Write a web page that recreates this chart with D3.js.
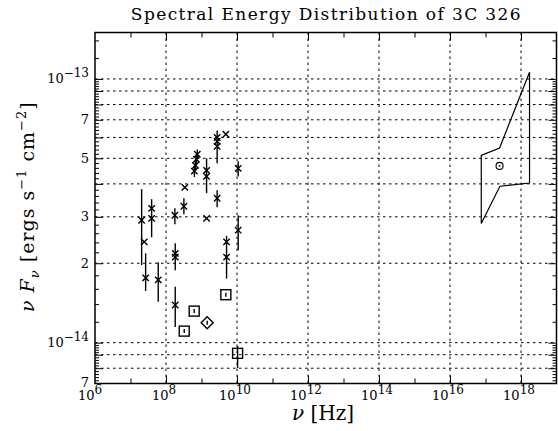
<!DOCTYPE html>
<html>
<head>
<meta charset="utf-8">
<script src="https://cdn.jsdelivr.net/npm/d3@7"></script>
<style>
  body { margin: 0; background: #fff; }
  svg { display: block; }
  text { font-family: "DejaVu Serif", serif; fill: #000; }
</style>
</head>
<body>
<svg id="chart" width="558" height="431"></svg>
<script>
// ---- Radio / mm photometry (crosses): frequency [Hz], nuFnu, error range ----
const crossFreq = [2.06e7, 2.44e7, 2.67e7, 3.94e7, 3.94e7, 6.04e7, 1.78e8, 3.19e8, 3.40e8, 1.82e8,
                   1.82e8, 1.82e8, 6.3e8, 6.76e8, 7.2e8, 7.6e8, 1.39e9, 1.39e9, 1.39e9, 2.76e9,
                   2.76e9, 2.76e9, 2.76e9, 4.85e9, 5.08e9, 5.08e9, 1.08e10, 1.08e10];
const crossFlux = [2.91e-14, 2.41e-14, 1.76e-14, 3.23e-14, 2.96e-14, 1.73e-14, 3.04e-14, 3.29e-14, 3.88e-14, 2.18e-14,
                   2.11e-14, 1.39e-14, 4.47e-14, 4.70e-14, 4.96e-14, 5.18e-14, 4.50e-14, 4.27e-14, 2.96e-14, 3.53e-14,
                   6.00e-14, 5.80e-14, 5.55e-14, 6.17e-14, 2.41e-14, 2.11e-14, 4.58e-14, 2.67e-14];
const crossLo   = [1.97e-14, null, 1.57e-14, null, 2.51e-14, 1.43e-14, 2.81e-14, 3.07e-14, null, 1.88e-14,
                   null, 1.146e-14, 4.25e-14, 4.48e-14, 4.72e-14, 4.95e-14, 3.69e-14, null, null, 3.26e-14,
                   4.79e-14, null, null, null, 1.75e-14, null, 4.27e-14, 2.24e-14];
const crossHi   = [3.82e-14, null, 2.18e-14, null, 3.50e-14, 2.02e-14, 3.23e-14, 3.53e-14, null, 2.38e-14,
                   null, 1.63e-14, 4.70e-14, 4.93e-14, 5.20e-14, 5.40e-14, 5.00e-14, null, null, 3.78e-14,
                   6.38e-14, null, null, null, 2.54e-14, null, 4.87e-14, 3.04e-14];

// ---- Boxed points ----
const boxFreq = [3.26e8, 6.22e8, 4.85e9, 1.04e10];
const boxFlux = [1.106e-14, 1.317e-14, 1.52e-14, 9.11e-15];
const boxLo   = [null, null, null, 8.01e-15];
const boxHi   = [null, null, null, 9.71e-15];

// ---- Diamond point ----
const diamondFreq = [1.445e9];
const diamondFlux = [1.19e-14];

// ---- X-ray point and spectral bow-tie ----
const xrayPointFreq = [2.49e17];
const xrayPointFlux = [4.68e-14];
const bowtieFreq = [7.6e16, 2.49e17, 1.74e18, 1.74e18, 2.55e17, 7.6e16];
const bowtieFlux = [5.13e-14, 5.47e-14, 1.06e-13, 4.03e-14, 3.92e-14, 2.83e-14];

// ---- Axis labelling ----
const xLabelExponents = [6, 8, 10, 12, 14, 16, 18];
const yLabelValues = [1e-13, 7e-14, 5e-14, 3e-14, 2e-14, 1e-14, 7e-15];
const yLabelMantissa = ["10", "7", "5", "3", "2", "10", "7"];
const yLabelExponent = ["\u221213", "", "", "", "", "\u221214", ""];

const svg = d3.select("#chart");
const x = d3.scaleLog().domain([1e6, 1e19]).range([95, 556.5]);
const y = d3.scaleLog().domain([7e-15, 1.5e-13]).range([383.5, 32.5]);
const [x0, x1] = x.range();
const [yb, yt] = y.range();

// Grid values: k * 10^n inside the frame
const gridY = [];
for (let e = -15; e <= -13; e++) for (let k = 1; k <= 9; k++) {
  const v = k * Math.pow(10, e);
  if (v > 7.05e-15 && v < 1.49e-13) gridY.push(v);
}
const gridX = d3.range(8, 19, 2).map(e => Math.pow(10, e));

const grid = svg.append("g").attr("stroke", "#000").attr("stroke-width", 1)
  .attr("stroke-dasharray", "2.5,3.5").attr("fill", "none");
grid.selectAll("line.gy").data(gridY).join("line").attr("class", "gy")
  .attr("x1", x0).attr("x2", x1).attr("y1", d => y(d)).attr("y2", d => y(d));
grid.selectAll("line.gx").data(gridX).join("line").attr("class", "gx")
  .attr("y1", yt).attr("y2", yb).attr("x1", d => x(d)).attr("x2", d => x(d));

// Tick values
const yMinor = [], yMajor = [];
for (let e = -15; e <= -13; e++) for (let i = 5; i < 50; i++) {
  const v = i * 2 * Math.pow(10, e - 1);
  if (v <= 7.05e-15 || v >= 1.49e-13) continue;
  (i % 5 === 0 ? yMajor : yMinor).push(v);
}
const xMajor = d3.range(8, 19, 2).map(e => Math.pow(10, e));
const xMinor = d3.range(7, 19, 2).map(e => Math.pow(10, e));

function styleAxis(g) {
  g.select(".domain").remove();
  g.selectAll(".tick line").attr("stroke", "#000").attr("stroke-width", 1);
  g.selectAll(".tick text").remove();
}
const addAxis = (gen, tx, ty) => svg.append("g").attr("transform", `translate(${tx},${ty})`).call(gen).call(styleAxis);

addAxis(d3.axisLeft(y).tickValues(yMinor).tickSizeInner(-4).tickSizeOuter(0), x0, 0);
addAxis(d3.axisLeft(y).tickValues(yMajor).tickSizeInner(-8).tickSizeOuter(0), x0, 0);
addAxis(d3.axisRight(y).tickValues(yMinor).tickSizeInner(-4).tickSizeOuter(0), x1, 0);
addAxis(d3.axisRight(y).tickValues(yMajor).tickSizeInner(-8).tickSizeOuter(0), x1, 0);
addAxis(d3.axisBottom(x).tickValues(xMajor).tickSizeInner(-8).tickSizeOuter(0), 0, yb);
addAxis(d3.axisBottom(x).tickValues(xMinor).tickSizeInner(-5).tickSizeOuter(0), 0, yb);
addAxis(d3.axisTop(x).tickValues(xMajor).tickSizeInner(-8).tickSizeOuter(0), 0, yt);
addAxis(d3.axisTop(x).tickValues(xMinor).tickSizeInner(-5).tickSizeOuter(0), 0, yt);

// Frame
svg.append("rect").attr("x", x0).attr("y", yt).attr("width", x1 - x0).attr("height", yb - yt)
  .attr("fill", "none").attr("stroke", "#000").attr("stroke-width", 1.5);

// X tick labels
const xl = svg.append("g").attr("font-size", 13);
xLabelExponents.forEach((e, i) => {
  const t = xl.append("text").attr("x", x(Math.pow(10, e)) - (i === 0 ? 5 : 2)).attr("y", 400)
    .attr("text-anchor", "middle");
  t.append("tspan").text("10");
  t.append("tspan").attr("dy", -6).attr("font-size", 12).text(e);
});

// Y tick labels
const yl = svg.append("g").attr("font-size", 13);
yLabelValues.forEach((v, i) => {
  const t = yl.append("text").attr("x", 89).attr("y", y(v) + 4.5 - (i === yLabelValues.length - 1 ? 1.5 : 0))
    .attr("text-anchor", "end");
  t.append("tspan").text(yLabelMantissa[i]);
  if (yLabelExponent[i]) t.append("tspan").attr("dy", -6).attr("font-size", 12).text(yLabelExponent[i]);
});

// Title and axis titles
svg.append("text").attr("x", (x0 + x1) / 2 + 0.7).attr("y", 20).attr("text-anchor", "middle")
  .attr("font-size", 17).attr("letter-spacing", 1.4).text("Spectral Energy Distribution of 3C 326");

const xt = svg.append("text").attr("x", 323).attr("y", 420).attr("text-anchor", "middle").attr("font-size", 20);
xt.append("tspan").attr("font-style", "italic").text("\u03bd");
xt.append("tspan").text(" [Hz]");

// Rotated y title, starting from the bottom
const yTitle = svg.append("text").attr("transform", "translate(34,312) rotate(-90)")
  .attr("text-anchor", "start").attr("font-size", 19).attr("letter-spacing", 1);
yTitle.append("tspan").attr("font-style", "italic").text("\u03bd F");
yTitle.append("tspan").attr("font-style", "italic").attr("font-size", 13).attr("dy", 5).text("\u03bd");
yTitle.append("tspan").attr("dy", -5).text("  [ergs s");
yTitle.append("tspan").attr("font-size", 13).attr("dy", -8).text("\u22121");
yTitle.append("tspan").attr("dy", 8).text(" cm");
yTitle.append("tspan").attr("font-size", 13).attr("dy", -8).text("\u22122");
yTitle.append("tspan").attr("dy", 8).text("]");

// Data layer
const data = svg.append("g").attr("stroke", "#000").attr("fill", "none").attr("stroke-width", 1.4);

// Error bars for crosses
const crosses = crossFreq.map((f, i) => ({ f, v: crossFlux[i], lo: crossLo[i], hi: crossHi[i] }));
data.selectAll("line.err").data(crosses.filter(d => d.lo !== null)).join("line").attr("class", "err")
  .attr("x1", d => x(d.f)).attr("x2", d => x(d.f)).attr("y1", d => y(d.lo)).attr("y2", d => y(d.hi));
const cs = 3.2;
data.selectAll("path.cross").data(crosses).join("path").attr("class", "cross")
  .attr("d", d => {
    const px = x(d.f), py = y(d.v);
    return `M${px - cs},${py - cs}L${px + cs},${py + cs}M${px - cs},${py + cs}L${px + cs},${py - cs}`;
  });

// Boxes with their small inner bar
const boxes = boxFreq.map((f, i) => ({ f, v: boxFlux[i], lo: boxLo[i], hi: boxHi[i] }));
const bs = 5;
data.selectAll("rect.box").data(boxes).join("rect").attr("class", "box")
  .attr("x", d => x(d.f) - bs).attr("y", d => y(d.v) - bs).attr("width", 2 * bs).attr("height", 2 * bs);
data.selectAll("line.boxbar").data(boxes).join("line").attr("class", "boxbar")
  .attr("x1", d => x(d.f)).attr("x2", d => x(d.f))
  .attr("y1", d => d.lo !== null ? y(d.lo) : y(d.v) + 2)
  .attr("y2", d => d.hi !== null ? y(d.hi) : y(d.v) - 2);

// Diamond
const diamonds = diamondFreq.map((f, i) => ({ f, v: diamondFlux[i] }));
const ds = 6;
data.selectAll("path.diamond").data(diamonds).join("path").attr("class", "diamond")
  .attr("d", d => {
    const px = x(d.f), py = y(d.v);
    return `M${px},${py - ds}L${px + ds},${py}L${px},${py + ds}L${px - ds},${py}Z`;
  });
data.selectAll("line.dbar").data(diamonds).join("line").attr("class", "dbar")
  .attr("x1", d => x(d.f)).attr("x2", d => x(d.f)).attr("y1", d => y(d.v) - 2).attr("y2", d => y(d.v) + 2);

// X-ray bow-tie and point
const bow = bowtieFreq.map((f, i) => [x(f), y(bowtieFlux[i])]);
data.append("path").attr("d", d3.line()(bow) + "Z").attr("stroke-width", 1.2);
xrayPointFreq.forEach((f, i) => {
  data.append("circle").attr("cx", x(f)).attr("cy", y(xrayPointFlux[i])).attr("r", 3.5).attr("stroke-width", 1.1);
  data.append("circle").attr("cx", x(f)).attr("cy", y(xrayPointFlux[i])).attr("r", 0.9).attr("fill", "#000").attr("stroke", "none");
});
</script>
</body>
</html>
